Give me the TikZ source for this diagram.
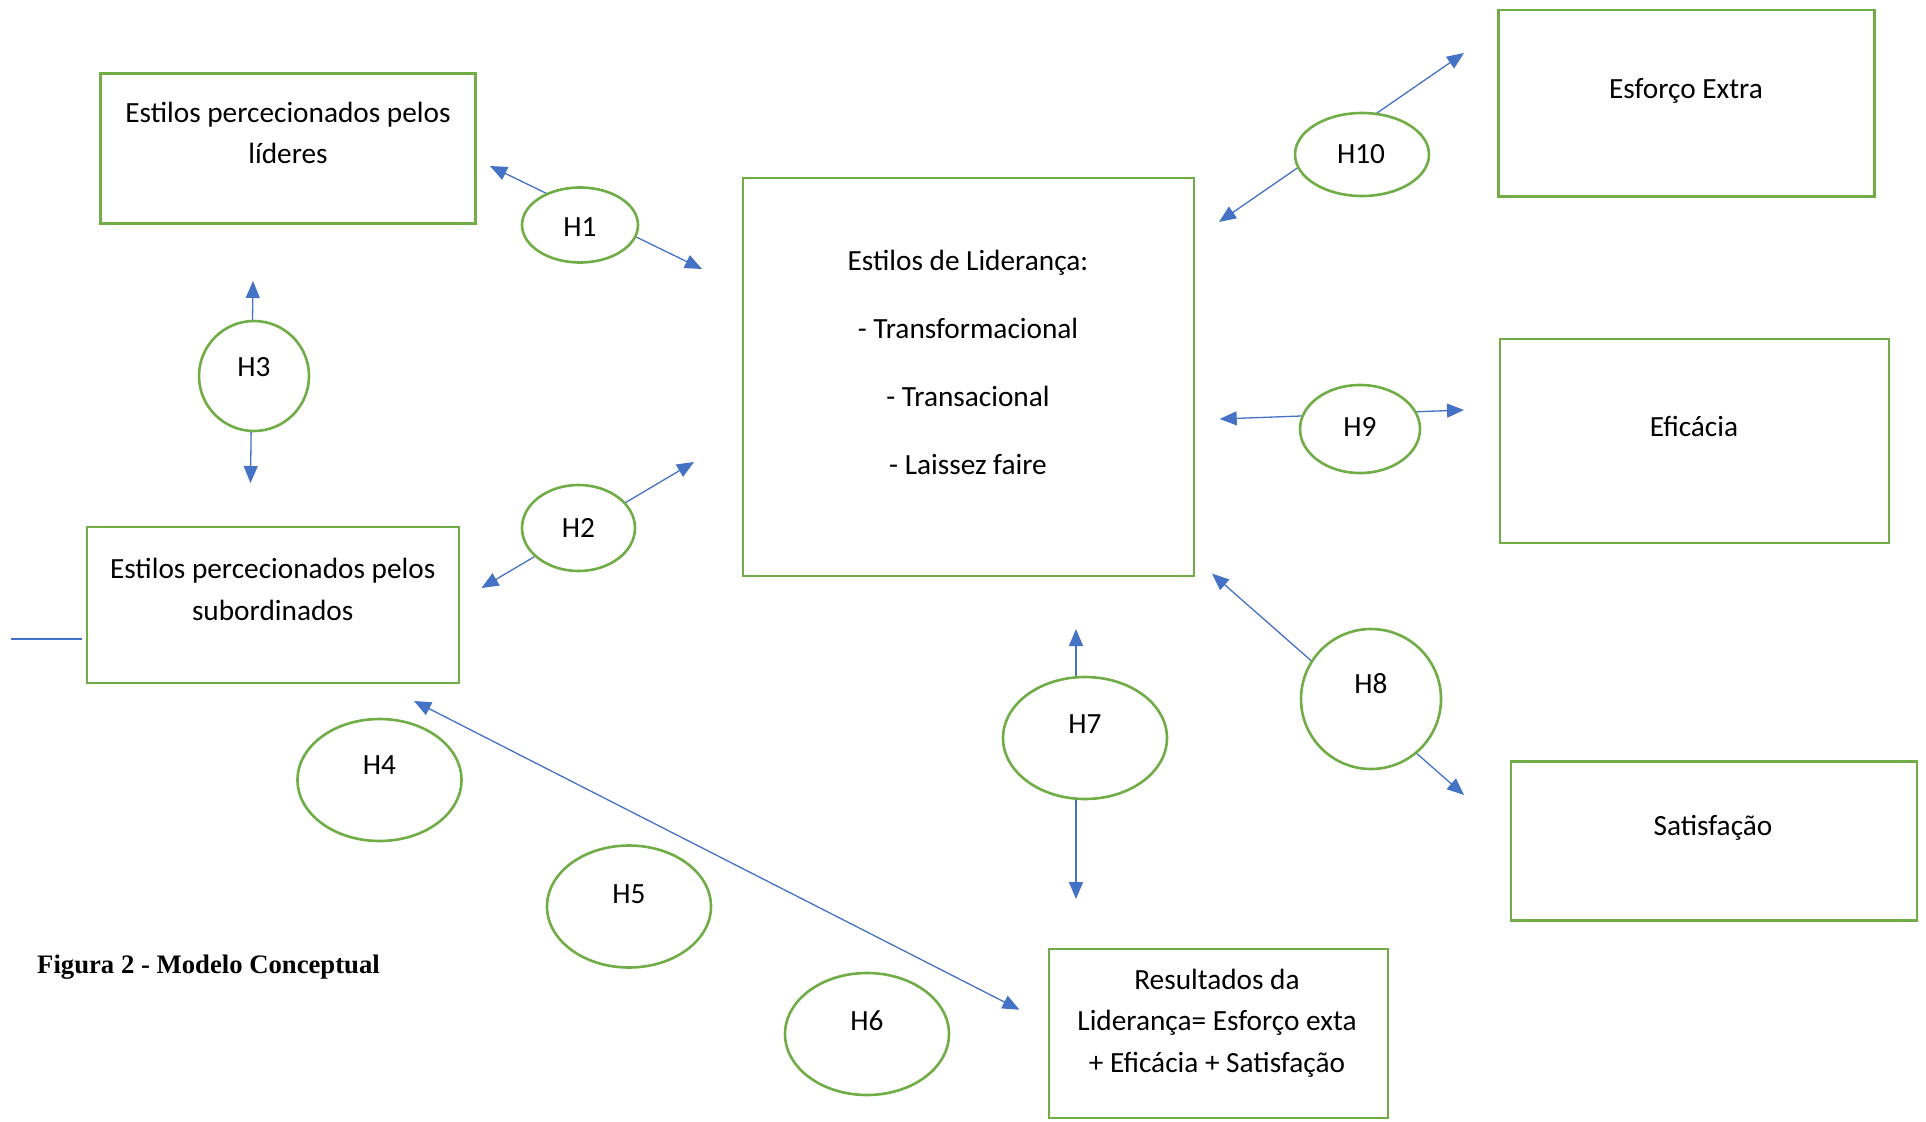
\documentclass[tikz,border=0pt]{standalone}
\usepackage{fontspec}
\setmainfont{Carlito}
\newfontfamily\capfont{Liberation Serif}
\usetikzlibrary{arrows.meta,shapes.geometric,calc}
\definecolor{gr}{HTML}{70AD47}
\definecolor{bl}{HTML}{4472C4}
\begin{document}
\begin{tikzpicture}[x=1pt,y=-1pt,
  box/.style={draw=gr,line width=2.6pt,inner sep=0pt,outer sep=0pt},
  hyp/.style={ellipse,draw=gr,fill=white,line width=2.6pt,inner sep=0pt,outer sep=0pt},
  txt/.style={inner sep=0pt,anchor=base,align=center,font=\fontsize{29.3}{41}\selectfont},
  htxt/.style={inner sep=0pt,anchor=center,text height=0.63em,text depth=0pt,font=\fontsize{29.3}{36}\selectfont},
  dbl/.style={draw=bl,line width=1.3pt,{Triangle[length=17pt,width=14pt]}-{Triangle[length=17pt,width=14pt]}},
  plain/.style={draw=bl,line width=1.3pt}]
\useasboundingbox (0,0) rectangle (1926,1121);

% boxes
\node[box,minimum width=374.7pt,minimum height=149.8pt] (b1) at (288,148.6) {};
\node[box,minimum width=451pt,minimum height=398pt] (b2) at (968.5,377) {};
\node[box,minimum width=376pt,minimum height=186.7pt] (b3) at (1686.5,103.2) {};
\node[box,minimum width=389pt,minimum height=204pt] (b4) at (1694.5,441) {};
\node[box,minimum width=406pt,minimum height=159.5pt] (b5) at (1714,841) {};
\node[box,minimum width=372pt,minimum height=156pt] (b6) at (273,605) {};
\node[box,minimum width=339pt,minimum height=169pt] (b7) at (1218.5,1033.5) {};

% box texts (base = baseline of last line)
\node[txt] (t1) at (288,163.5) {Estilos percecionados pelos\\líderes};
\node[txt,font=\fontsize{29.3}{67.9}\selectfont] (t2) at (968,474.1) {Estilos de Liderança:\\- Transformacional\\- Transacional\\- Laissez faire};
\node[txt] (t3) at (1686,98.4) {Esforço Extra};
\node[txt] (t4) at (1694,436) {Eficácia};
\node[txt] (t5) at (1713,835.4) {Satisfação};
\node[txt,font=\fontsize{29.3}{41.8}\selectfont] (t6) at (272.7,620.5) {Estilos percecionados pelos\\subordinados};
\node[txt,font=\fontsize{29.3}{41.7}\selectfont] (t7) at (1217,1072.4) {Resultados da\\Liderança= Esforço exta\\+ Eficácia + Satisfação};

% connector end points
\coordinate (a1s) at (490,166);   \coordinate (a1e) at (702,269);
\coordinate (a2s) at (694,462);   \coordinate (a2e) at (481.5,588);
\coordinate (a3s) at (253,281);   \coordinate (a3e) at (250.5,483);
\coordinate (a7s) at (1076,629);  \coordinate (a7e) at (1076,899);
\coordinate (a8s) at (1212,573.6);\coordinate (a8e) at (1464,795);
\coordinate (a9s) at (1219.7,419);\coordinate (a9e) at (1464,410);
\coordinate (a10s) at (1464,53);  \coordinate (a10e) at (1219,222);
\coordinate (ls) at (414,701);    \coordinate (le) at (1019.5,1009.7);
\coordinate (ss) at (11,639);     \coordinate (se) at (82,639);

\draw[dbl] (a1s) -- (a1e);
\draw[dbl] (a2s) -- (a2e);
\draw[dbl] (a3s) -- (a3e);
\draw[dbl] (a7s) -- (a7e);
\draw[dbl] (a8s) -- (a8e);
\draw[dbl] (a9s) -- (a9e);
\draw[dbl] (a10s) -- (a10e);
\draw[dbl] (ls) -- (le);
\draw[plain] (ss) -- (se);

% hypothesis ellipses
\node[hyp,minimum width=116pt,minimum height=75pt] (h1) at (580,225) {};
\node[hyp,minimum width=113pt,minimum height=86pt] (h2) at (578.5,528) {};
\node[hyp,minimum width=110pt,minimum height=110pt] (h3) at (254,376) {};
\node[hyp,minimum width=164pt,minimum height=122pt] (h4) at (379.5,780) {};
\node[hyp,minimum width=164pt,minimum height=122pt] (h5) at (629,906.5) {};
\node[hyp,minimum width=164pt,minimum height=122pt] (h6) at (867,1034) {};
\node[hyp,minimum width=164pt,minimum height=122pt] (h7) at (1085,738) {};
\node[hyp,minimum width=140pt,minimum height=140pt] (h8) at (1371,699) {};
\node[hyp,minimum width=120pt,minimum height=88pt] (h9) at (1360,429) {};
\node[hyp,minimum width=134pt,minimum height=83pt] (h10) at (1362,154.5) {};

\node[htxt] (h1t) at (580,233) {H1};
\node[htxt] (h2t) at (578.5,534) {H2};
\node[htxt] (h3t) at (254,373) {H3};
\node[htxt] (h4t) at (379.5,771) {H4};
\node[htxt] (h5t) at (629,900) {H5};
\node[htxt] (h6t) at (867,1027) {H6};
\node[htxt] (h7t) at (1085,730.7) {H7};
\node[htxt] (h8t) at (1371,690) {H8};
\node[htxt] (h9t) at (1360,433.5) {H9};
\node[htxt] (h10t) at (1361,160.8) {H10};

% caption
\node[inner sep=0pt,anchor=base west,font=\capfont\bfseries\fontsize{26.7}{30}\selectfont] (cap) at (37,973) {Figura 2 - Modelo Conceptual};
\end{tikzpicture}
\end{document}
